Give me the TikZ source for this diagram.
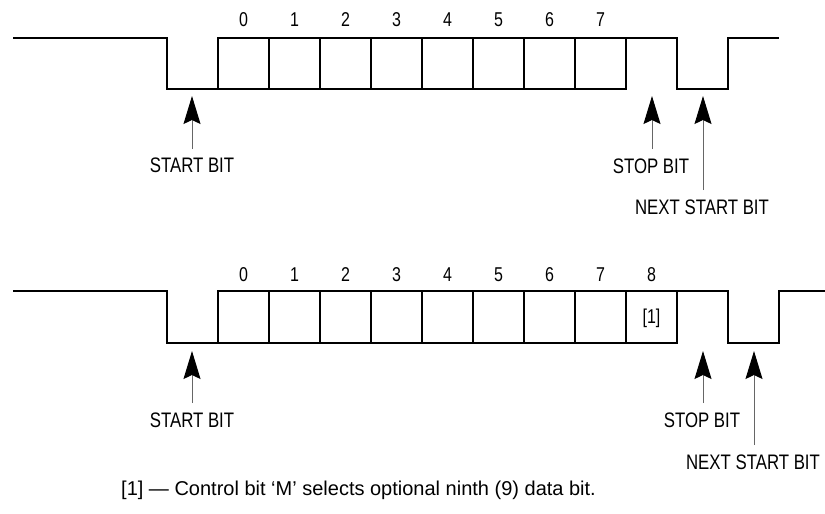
\documentclass[tikz,border=0pt]{standalone}
\usepackage{fontspec}
\setmainfont{Liberation Sans}
\newfontfamily\condfont[FakeStretch=0.80]{Liberation Sans}
\usetikzlibrary{arrows.meta}
\begin{document}
\begin{tikzpicture}[x=1pt,y=-1pt,
  wave/.style={line width=2.4pt, line join=miter},
  divider/.style={line width=1.5pt},
  ptr/.style={draw=black!60, line width=1pt,
    -{Stealth[length=28pt,width=17pt,inset=4pt,color=black]}},
  lbl/.style={font=\condfont\fontsize{21}{24}\selectfont, inner sep=0pt},
  num/.style={font=\condfont\fontsize{20}{23}\selectfont, inner sep=0pt},
  note/.style={font=\fontsize{20}{24}\selectfont, inner sep=0pt, anchor=west}]
\useasboundingbox (0,0) rectangle (825,514);

% ---------------- top frame ----------------
\draw[wave] (13,38) -- (167,38) -- (167,89) -- (218,89) -- (218,38) -- (626,38)
  -- (677,38) -- (677,89) -- (728,89) -- (728,38) -- (779,38);
\draw[wave] (218,89) -- (626,89) -- (626,38);
\foreach \i in {1,...,7} {
  \draw[divider] ({218+51*\i},38) -- ({218+51*\i},89);
}
\foreach \i in {0,...,7} {
  \node[num] (ta\i) at ({243.5+51*\i},20) {\i};
}
\node[lbl] (tstart) at (192,165) {START BIT};
\node[lbl] (tstop) at (651,166) {STOP BIT};
\node[lbl] (tnext) at (702,207) {NEXT START BIT};
\coordinate (tstartT) at (192,96);
\coordinate (tstartB) at (192,149);
\coordinate (tstopT) at (652,96);
\coordinate (tstopB) at (652,149);
\coordinate (tnextT) at (703,96);
\coordinate (tnextB) at (703,190);
\draw[ptr] (tstartB) -- (tstartT);
\draw[ptr] (tstopB) -- (tstopT);
\draw[ptr] (tnextB) -- (tnextT);

% ---------------- bottom frame ----------------
\draw[wave] (13,291) -- (167,291) -- (167,343) -- (218,343) -- (218,291) -- (677,291)
  -- (728,291) -- (728,343) -- (779,343) -- (779,291) -- (825,291);
\draw[wave] (218,343) -- (677,343) -- (677,291);
\foreach \i in {1,...,8} {
  \draw[divider] ({218+51*\i},291) -- ({218+51*\i},343);
}
\foreach \i in {0,...,8} {
  \node[num] (ba\i) at ({243.5+51*\i},275) {\i};
}
\node[num] (fn) at (651.5,318) {[1]};
\node[lbl] (bstart) at (192,420) {START BIT};
\node[lbl] (bstop) at (702,420) {STOP BIT};
\node[lbl] (bnext) at (753,462) {NEXT START BIT};
\coordinate (bstartT) at (192,351);
\coordinate (bstartB) at (192,403);
\coordinate (bstopT) at (703,351);
\coordinate (bstopB) at (703,403);
\coordinate (bnextT) at (754,351);
\coordinate (bnextB) at (754,445);
\draw[ptr] (bstartB) -- (bstartT);
\draw[ptr] (bstopB) -- (bstopT);
\draw[ptr] (bnextB) -- (bnextT);

% ---------------- footnote ----------------
\node[note] (note) at (121,490) {[1] — Control bit ‘M’ selects optional ninth (9) data bit.};
\end{tikzpicture}
\end{document}
